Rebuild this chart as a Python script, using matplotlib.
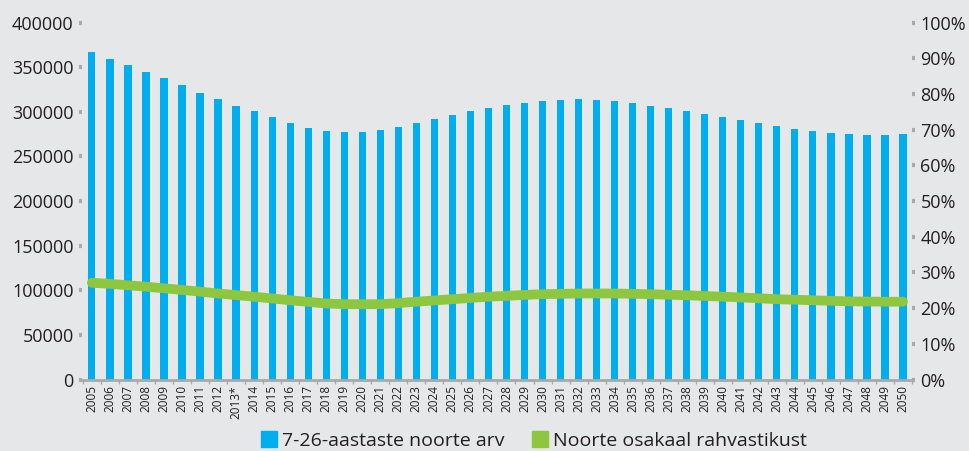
import numpy as np
import matplotlib.pyplot as plt
from matplotlib.lines import Line2D

# data
years = ['2005', '2006', '2007', '2008', '2009', '2010', '2011', '2012', '2013*', '2014',
         '2015', '2016', '2017', '2018', '2019', '2020', '2021', '2022', '2023', '2024',
         '2025', '2026', '2027', '2028', '2029', '2030', '2031', '2032', '2033', '2034',
         '2035', '2036', '2037', '2038', '2039', '2040', '2041', '2042', '2043', '2044',
         '2045', '2046', '2047', '2048', '2049', '2050']
youth_count = [366600, 359000, 352000, 345000, 337500, 329600, 321000, 314000, 306800, 300500,
               293800, 287400, 281800, 278200, 277000, 277000, 279600, 283000, 287400, 291500,
               296000, 300800, 304500, 307200, 310000, 312000, 313500, 314000, 313000, 312000,
               310000, 307000, 304000, 301000, 297500, 294000, 290400, 287000, 283700, 281000,
               278400, 276500, 274700, 274300, 274300, 274700]
youth_share = [27.1, 26.8, 26.4, 26.0, 25.55, 25.1, 24.6, 24.1, 23.65, 23.2,
               22.7, 22.2, 21.75, 21.3, 21.1, 21.1, 21.1, 21.4, 21.8, 22.15,
               22.5, 22.85, 23.2, 23.45, 23.7, 23.9, 24.0, 24.1, 24.1, 24.1,
               24.0, 23.9, 23.75, 23.6, 23.4, 23.2, 23.0, 22.75, 22.5, 22.35,
               22.2, 22.05, 21.9, 21.85, 21.8, 21.8]
left_ticks = [0, 50000, 100000, 150000, 200000, 250000, 300000, 350000, 400000]
right_ticks = [0, 10, 20, 30, 40, 50, 60, 70, 80, 90, 100]
series_names = ['7-26-aastaste noorte arv', 'Noorte osakaal rahvastikust']

blue = '#00AEEF'
green = '#8DC63F'
bg = '#E6E7E8'
tick_grey = '#A8A9AB'
text_col = '#231F20'

plt.rcParams['font.family'] = ['Open Sans', 'DejaVu Sans']

fig = plt.figure(figsize=(9.69, 4.51), dpi=100, facecolor=bg)
ax = fig.add_axes([0.0846, 0.1585, 0.8566, 0.7916], facecolor=bg)
x = np.arange(len(years))

ax.bar(x, youth_count, width=0.4, color=blue, zorder=2)
ax.set_xlim(-0.55, len(years) - 0.5)
ax.set_ylim(0, 400000)
ax.set_yticks(left_ticks)
ax.set_yticklabels([str(t) for t in left_ticks])
ax.set_xticks(x)
ax.set_xticklabels(years, rotation=90, fontsize=8.5, color=text_col)
ax.set_xticks(np.arange(-0.5, len(years), 1), minor=True)

for s in ['top', 'right', 'left']:
    ax.spines[s].set_visible(False)
ax.spines['bottom'].set_color(tick_grey)
ax.spines['bottom'].set_linewidth(2)
ax.tick_params(axis='y', length=2, width=3, color=tick_grey, labelsize=13,
               labelcolor=text_col, pad=4)
ax.tick_params(axis='x', which='major', length=0, pad=4)
ax.tick_params(axis='x', which='minor', length=3, width=1, color=tick_grey)

ax2 = ax.twinx()
ax2.plot(x, youth_share, color=green, lw=7, solid_capstyle='round', zorder=3)
ax2.set_ylim(0, 100)
ax2.set_yticks(right_ticks)
ax2.set_yticklabels([f'{t}%' for t in right_ticks])
for s in ['top', 'right', 'left', 'bottom']:
    ax2.spines[s].set_visible(False)
ax2.tick_params(axis='y', length=2, width=3, color=tick_grey, labelsize=13,
                labelcolor=text_col, pad=4)

handles = [Line2D([], [], ls='none', marker='s', markersize=11, color=blue),
           Line2D([], [], ls='none', marker='s', markersize=11, color=green)]
fig.legend(handles, series_names, loc='center', bbox_to_anchor=(0.551, 0.022), ncol=2,
           frameon=False, fontsize=14, handlelength=0.8, handletextpad=0.3,
           columnspacing=1.4, labelcolor=text_col)

fig.savefig('out.png', dpi=100, facecolor=bg)
